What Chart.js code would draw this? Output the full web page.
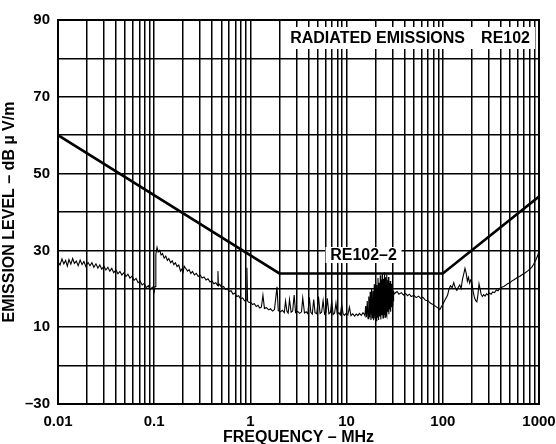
<!DOCTYPE html>
<html>
<head>
<meta charset="utf-8">
<script src="https://cdn.jsdelivr.net/npm/chart.js@4.4.1/dist/chart.umd.min.js"></script>
<style>
  html, body { margin: 0; padding: 0; background: #fff; }
  #chart { display: block; }
</style>
</head>
<body>
<canvas id="chart" width="556" height="444"></canvas>
<script>
// emission trace (MHz, dB uV/m)
const emissionFreq = [
  0.0100, 0.0105, 0.0110, 0.0115, 0.0120, 0.0125, 0.0130, 0.0136, 0.0142, 0.0148,
  0.0155, 0.0162, 0.0170, 0.0178, 0.0186, 0.0195, 0.0205, 0.0215, 0.0225, 0.0236,
  0.0248, 0.0260, 0.0272, 0.0285, 0.0300, 0.0315, 0.0330, 0.0346, 0.0362, 0.0380,
  0.0400, 0.0420, 0.0440, 0.0462, 0.0485, 0.0508, 0.0533, 0.0560, 0.0588, 0.0617,
  0.0648, 0.0680, 0.0714, 0.0750, 0.0787, 0.0826, 0.0868, 0.0911, 0.0956, 0.100,
  0.102, 0.104, 0.107, 0.110, 0.114, 0.118, 0.122, 0.127, 0.132, 0.137,
  0.142, 0.148, 0.154, 0.160, 0.166, 0.173, 0.180, 0.188, 0.195, 0.200,
  0.205, 0.213, 0.222, 0.231, 0.240, 0.250, 0.262, 0.274, 0.287, 0.300,
  0.315, 0.330, 0.346, 0.362, 0.380, 0.398, 0.417, 0.437, 0.455, 0.460,
  0.465, 0.480, 0.500, 0.525, 0.550, 0.575, 0.600, 0.630, 0.660, 0.690,
  0.720, 0.755, 0.790, 0.830, 0.870, 0.905, 0.920, 0.935, 0.970, 1.00,
  1.05, 1.10, 1.15, 1.20, 1.25, 1.30, 1.35, 1.40, 1.47, 1.55,
  1.62, 1.70, 1.78, 1.89, 1.95, 2.05, 2.15, 2.25, 2.32, 2.40,
  2.47, 2.55, 2.65, 2.75, 2.85, 2.95, 3.10, 3.25, 3.40, 3.50,
  3.65, 3.80, 3.95, 4.10, 4.25, 4.40, 4.55, 4.70, 4.90, 5.10,
  5.30, 5.50, 5.70, 5.90, 6.10, 6.30, 6.55, 6.80, 7.00, 7.25,
  7.50, 7.75, 8.00, 8.30, 8.60, 8.90, 9.20, 9.50, 9.90, 10.3,
  10.7, 11.1, 11.6, 12.1, 12.6, 13.1, 13.6, 14.2, 14.8, 15.3,
  15.5, 15.8, 16.1, 16.4, 16.7, 17.0, 17.3, 17.6, 17.9, 18.2,
  18.5, 18.8, 19.1, 19.4, 19.7, 20.0, 20.3, 20.6, 20.9, 21.2,
  21.5, 21.8, 22.1, 22.4, 22.7, 23.0, 23.3, 23.6, 23.9, 24.2,
  24.5, 24.8, 25.1, 25.4, 25.7, 26.0, 26.3, 26.6, 26.9, 27.2,
  27.5, 27.8, 28.1, 28.4, 28.7, 29.0, 29.3, 29.6, 29.9, 30.2,
  30.5, 30.8, 31.2, 32.0, 33.5, 35.0, 37.0, 39.0, 41.0, 43.0,
  45.0, 47.0, 50.0, 53.0, 56.0, 59.0, 62.0, 66.0, 70.0, 74.0,
  78.0, 82.0, 86.0, 90.0, 93.0, 96.0, 100, 104, 108, 112,
  116, 120, 125, 130, 135, 140, 145, 150, 155, 160,
  165, 170, 175, 180, 185, 190, 195, 200, 207, 214,
  220, 226, 232, 238, 244, 250, 258, 266, 275, 285,
  295, 305, 318, 330, 345, 360, 375, 390, 410, 430,
  450, 470, 495, 520, 545, 570, 600, 630, 660, 690,
  720, 760, 800, 840, 880, 920, 960, 1000
];
const emissionLevel = [
  27.0, 26.2, 27.8, 26.5, 27.4, 25.9, 27.6, 26.4, 27.9, 26.6,
  27.2, 26.0, 27.5, 26.3, 27.1, 25.8, 26.9, 26.0, 26.8, 25.6,
  26.5, 25.4, 26.2, 25.1, 25.9, 24.9, 25.6, 24.6, 25.3, 24.2,
  24.9, 23.9, 24.5, 23.6, 24.2, 23.2, 23.8, 22.8, 23.3, 22.2,
  22.7, 21.6, 22.0, 21.0, 21.4, 20.3, 20.8, 19.8, 20.4, 19.2,
  20.6, 29.0, 30.8, 29.6, 30.0, 28.8, 29.2, 28.0, 28.5, 27.4,
  27.9, 26.8, 27.3, 26.3, 26.8, 25.8, 26.2, 24.6, 25.2, 24.4,
  25.9, 25.3, 24.6, 25.0, 24.0, 24.5, 23.6, 24.0, 23.2, 23.6,
  22.8, 23.1, 22.3, 22.6, 21.8, 22.1, 21.3, 21.6, 20.9, 24.6,
  20.8, 21.2, 20.4, 20.6, 19.8, 20.1, 19.3, 19.5, 18.6, 18.9,
  18.0, 18.2, 17.4, 17.6, 16.9, 17.1, 25.5, 16.8, 16.4, 16.6,
  15.9, 16.1, 15.4, 15.7, 15.0, 15.2, 18.3, 14.9, 15.1, 14.5,
  14.8, 14.2, 14.6, 20.5, 14.3, 14.0, 14.4, 13.8, 16.8, 14.1,
  13.7, 17.2, 13.9, 14.2, 18.4, 13.8, 14.1, 13.6, 14.0, 17.6,
  13.7, 14.0, 13.5, 17.8, 13.9, 13.4, 17.2, 13.8, 13.5, 18.0,
  13.6, 13.9, 16.9, 13.4, 13.8, 17.5, 13.5, 13.9, 16.8, 13.3,
  13.7, 16.3, 13.4, 13.8, 13.2, 15.9, 13.5, 13.1, 13.6, 13.2,
  15.2, 13.0, 13.5, 12.9, 13.4, 13.0, 13.6, 13.1, 13.8, 13.3,
  13.0, 15.5, 12.6, 16.8, 12.2, 18.0, 12.5, 19.2, 11.9, 20.1,
  12.4, 19.5, 11.8, 21.2, 12.3, 22.0, 11.7, 21.0, 12.6, 22.8,
  11.9, 21.6, 12.8, 23.5, 12.0, 22.4, 13.1, 23.9, 12.4, 22.6,
  13.3, 24.3, 12.6, 23.0, 13.5, 23.8, 12.9, 22.2, 14.0, 23.1,
  13.4, 21.5, 14.6, 22.0, 14.0, 20.6, 15.2, 21.3, 15.8, 19.8,
  16.9, 19.4, 18.6, 18.9, 19.3, 18.6, 19.0, 18.4, 18.8, 18.2,
  18.6, 18.0, 18.3, 17.7, 18.1, 17.5, 17.8, 17.0, 16.9, 16.3,
  16.0, 15.6, 15.3, 14.9, 14.6, 15.2, 15.9, 16.8, 17.6, 18.3,
  19.9, 20.8, 20.3, 21.6, 20.2, 19.6, 20.4, 21.0, 20.1, 22.4,
  23.8, 25.3, 24.1, 22.0, 23.0, 21.5, 22.3, 21.8, 19.2, 17.6,
  16.9, 16.6, 18.5, 21.3, 20.0, 18.6, 18.0, 18.5, 18.1, 18.7,
  18.4, 18.9, 18.6, 19.2, 19.0, 19.7, 19.5, 20.1, 20.4, 20.6,
  20.9, 21.3, 21.5, 22.0, 22.3, 22.6, 23.0, 23.2, 23.6, 23.9,
  24.2, 24.6, 25.1, 25.6, 26.4, 27.3, 28.4, 29.8
];

// RE102-2 limit corners
const limitFreq = [0.01, 2, 100, 1000];
const limitLevel = [60, 24, 24, 44];

// axis ticks
const xTickValues = [0.01, 0.1, 1, 10, 100, 1000];
const xTickText = ['0.01', '0.1', '1', '10', '100', '1000'];
const yTickValues = [90, 70, 50, 30, 10, -10];
const yTickText = ['90', '70', '50', '30', '10', '–30'];

const FONT = '"Liberation Sans", Arial, sans-serif';

// vertical grid: 1..9 in every decade
const xGrid = [];
for (let d = 0; d < xTickValues.length - 1; d++) {
    for (let m = 1; m <= 9; m++) {
        xGrid.push(parseFloat((xTickValues[d] * m).toPrecision(6)));
    }
}
xGrid.push(xTickValues[xTickValues.length - 1]);

function labelFor(values, texts, v) {
    const i = values.findIndex(t => Math.abs(t - v) <= Math.abs(t) * 1e-6 + 1e-9);
    return i >= 0 ? texts[i] : '';
}

const overlay = {
    id: 'overlay',
    afterDatasetsDraw(chart) {
        const {ctx, chartArea: a, scales: {x, y}} = chart;
        ctx.save();

        // heavier frame
        ctx.strokeStyle = '#000';
        ctx.lineWidth = 2;
        ctx.strokeRect(a.left, a.top, a.right - a.left, a.bottom - a.top);

        ctx.font = 'bold 16px ' + FONT;
        ctx.textBaseline = 'middle';

        // header box
        ctx.fillStyle = '#fff';
        ctx.fillRect(a.right - 256, a.top + 7, 252, 22);
        ctx.fillStyle = '#000';
        ctx.textAlign = 'right';
        ctx.fillText('RE102', a.right - 9, a.top + 19);
        ctx.fillText('RADIATED EMISSIONS', a.right - 74, a.top + 19);

        // limit label
        const lx = x.getPixelForValue(15);
        const ly = y.getPixelForValue(28.8);
        ctx.fillStyle = '#fff';
        ctx.fillRect(lx - 38, ly - 8, 76, 16);
        ctx.fillStyle = '#000';
        ctx.textAlign = 'center';
        ctx.fillText('RE102–2', lx, ly + 1);

        ctx.restore();
    }
};

new Chart(document.getElementById('chart').getContext('2d'), {
    type: 'line',
    data: {
        datasets: [
            {
                label: 'Emission',
                data: emissionFreq.map((f, i) => ({x: f, y: emissionLevel[i]})),
                borderColor: '#000',
                borderWidth: 1.1,
                pointRadius: 0,
                tension: 0
            },
            {
                label: 'RE102-2',
                data: limitFreq.map((f, i) => ({x: f, y: limitLevel[i]})),
                borderColor: '#000',
                borderWidth: 2.6,
                pointRadius: 0,
                tension: 0
            }
        ]
    },
    options: {
        responsive: false,
        animation: false,
        devicePixelRatio: 1,
        layout: {padding: {top: 20, right: 17, left: 0, bottom: 0}},
        plugins: {
            legend: {display: false},
            tooltip: {enabled: false}
        },
        scales: {
            x: {
                type: 'logarithmic',
                min: 0.01,
                max: 1000,
                afterBuildTicks: scale => {
                    scale.ticks = xGrid.map(v => ({value: v}));
                },
                afterFit: scale => {
                    scale.height = 40;
                    scale.paddingLeft = 0;
                    scale.paddingRight = 0;
                },
                grid: {color: '#000', lineWidth: 1.5, drawTicks: false},
                border: {color: '#000', width: 2},
                ticks: {
                    autoSkip: false,
                    maxRotation: 0,
                    padding: 9,
                    color: '#000',
                    font: {family: FONT, size: 15, weight: 'bold'},
                    callback: v => labelFor(xTickValues, xTickText, v)
                },
                title: {
                    display: true,
                    text: 'FREQUENCY – MHz',
                    color: '#000',
                    padding: {top: 0, bottom: -3},
                    font: {family: FONT, size: 16, weight: 'bold'}
                }
            },
            y: {
                type: 'linear',
                min: -10,
                max: 90,
                ticks: {
                    stepSize: 10,
                    padding: 8,
                    color: '#000',
                    font: {family: FONT, size: 15, weight: 'bold'},
                    callback: v => labelFor(yTickValues, yTickText, v)
                },
                afterFit: scale => {
                    scale.width = 58;
                    scale.paddingTop = 0;
                    scale.paddingBottom = 0;
                },
                grid: {color: '#000', lineWidth: 1.5, drawTicks: false},
                border: {color: '#000', width: 2},
                title: {
                    display: true,
                    text: 'EMISSION LEVEL – dB µ V/m',
                    color: '#000',
                    padding: {top: 0, bottom: 0},
                    font: {family: FONT, size: 16, weight: 'bold'}
                }
            }
        }
    },
    plugins: [overlay]
});
</script>
</body>
</html>
